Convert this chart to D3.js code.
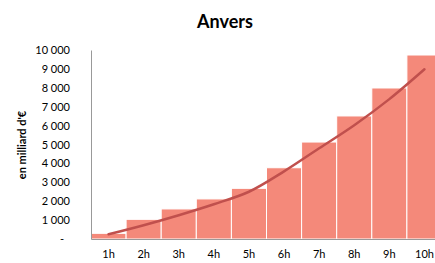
<!DOCTYPE html>
<html>
<head>
<meta charset="utf-8">
<script src="https://cdn.jsdelivr.net/npm/d3@7"></script>
<style>
  body { margin: 0; background: #fff; }
  text { font-family: Lato, "Open Sans", sans-serif; fill: #000; }
</style>
</head>
<body>
<div id="graphArea"></div>
<script>
var hours = ["1h","2h","3h","4h","5h","6h","7h","8h","9h","10h"]
var barValues = [300, 1040, 1590, 2120, 2680, 3770, 5130, 6510, 7990, 9735]
var lineValues = [250, 730, 1260, 1840, 2500, 3580, 4800, 6020, 7400, 8980]
var yTicks = [0, 1000, 2000, 3000, 4000, 5000, 6000, 7000, 8000, 9000, 10000]

var margin = { top: 50, left: 91, bottom: 24, right: 0 }
var width = 351
var height = 263 - margin.top - margin.bottom

var svg = d3.select("#graphArea").append("svg")
  .attr("width", 435)
  .attr("height", 263)

svg.append("text")
  .attr("x", 225).attr("y", 28)
  .attr("text-anchor", "middle")
  .style("font-size", "18px").style("font-weight", "bold")
  .text("Anvers")

svg.append("text")
  .attr("transform", "translate(26,145) rotate(-90)")
  .attr("text-anchor", "middle")
  .style("font-size", "11px").style("font-weight", "bold")
  .text("en milliard d'€")

var g = svg.append("g")
  .attr("transform", "translate(" + margin.left + "," + margin.top + ")")

var x = d3.scaleBand().domain(hours).range([0, width]).padding(0)
var y = d3.scaleLinear().domain([0, 10000]).range([height, 0])

// bars
g.selectAll(".bar")
  .data(barValues)
  .enter()
  .append("rect")
  .attr("class", "bar")
  .attr("x", function(d, i) { return x(hours[i]) })
  .attr("width", x.bandwidth())
  .attr("y", function(d) { return y(d) })
  .attr("height", function(d) { return height - y(d) })
  .attr("fill", "#F4897A")
  .attr("stroke", "#fff")
  .attr("stroke-width", 1)

// y axis
var fmt = function(d) { return d === 0 ? "-" : d3.format(",")(d).replace(/,/g, " ") }
var yAxis = g.append("g")
  .call(d3.axisLeft(y).tickValues(yTicks).tickFormat(fmt).tickSize(0).tickPadding(21))
yAxis.select(".domain").attr("stroke", "#999")
yAxis.selectAll("text").style("font-size", "11px")
yAxis.selectAll("text").filter(function(d) { return d === 0 }).attr("dx", -6)

// x axis
var xAxis = g.append("g")
  .attr("transform", "translate(0," + height + ")")
  .call(d3.axisBottom(x).tickSize(0).tickPadding(11))
xAxis.select(".domain").attr("stroke", "#999")
xAxis.selectAll("text").style("font-size", "11px")

// line
var line = d3.line()
  .x(function(d, i) { return x(hours[i]) + x.bandwidth() / 2 })
  .y(function(d) { return y(d) })
  .curve(d3.curveCatmullRom)

g.append("path")
  .datum(lineValues)
  .attr("d", line)
  .attr("fill", "none")
  .attr("stroke", "#C0504D")
  .attr("stroke-width", 2.5)
  .attr("stroke-linecap", "round")
</script>
</body>
</html>
